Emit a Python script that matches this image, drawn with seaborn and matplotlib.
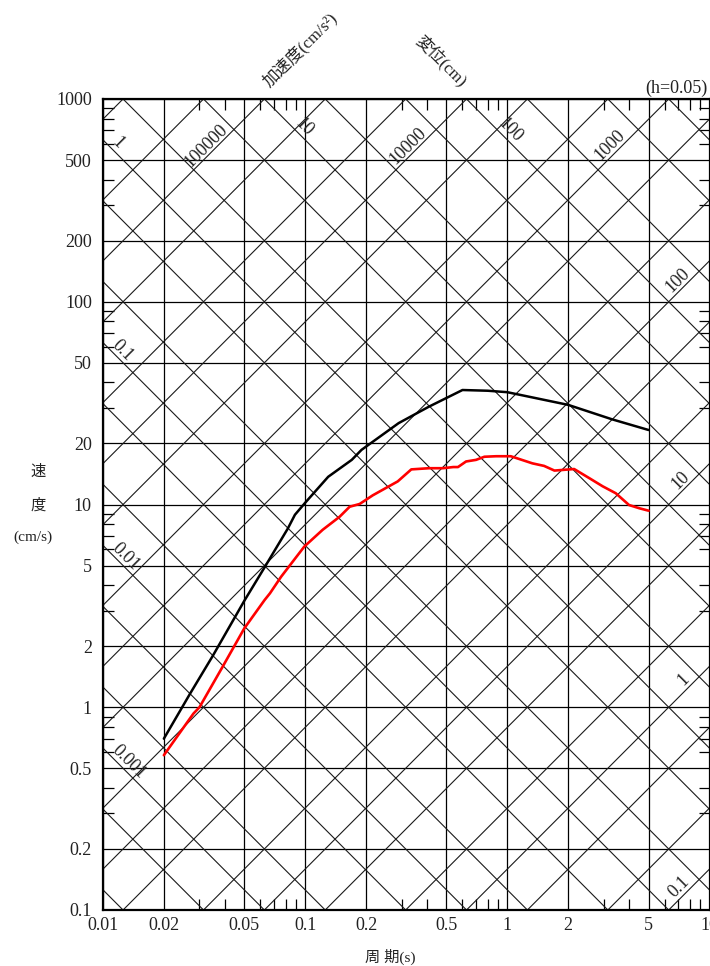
import matplotlib
matplotlib.use("Agg")
import matplotlib.pyplot as plt
from matplotlib.ticker import LogLocator, NullFormatter
import seaborn as sns
import numpy as np
import pandas as pd

# === DATI ===
# spettro di progetto (nero)
t_nero = [0.02, 0.027, 0.035, 0.05, 0.063, 0.082, 0.089, 0.1, 0.13, 0.17, 0.19,
          0.29, 0.41, 0.6, 0.8, 1.0, 2.0, 3.3, 5.0]
v_nero = [0.70, 1.17, 1.8, 3.35, 4.9, 7.6, 8.9, 10.2, 13.7, 16.6, 18.6,
          25.2, 30.4, 36.7, 36.4, 35.8, 31.0, 26.3, 23.3]

# spettro registrato (rosso)
t_rosso = [0.02, 0.028, 0.030, 0.039, 0.050, 0.063, 0.067, 0.076, 0.099, 0.122,
           0.148, 0.166, 0.186, 0.216, 0.256, 0.287, 0.335, 0.41, 0.48, 0.54,
           0.57, 0.625, 0.70, 0.77, 0.88, 1.04, 1.33, 1.52, 1.71, 2.14, 2.54,
           2.96, 3.44, 4.0, 4.5, 5.0]
v_rosso = [0.58, 0.93, 1.0, 1.58, 2.45, 3.38, 3.65, 4.4, 6.2, 7.5,
           8.7, 9.75, 10.06, 11.1, 12.2, 13.0, 14.9, 15.1, 15.1, 15.3,
           15.3, 16.3, 16.6, 17.2, 17.3, 17.3, 15.96, 15.5, 14.7, 14.96, 13.5,
           12.3, 11.36, 9.94, 9.58, 9.32]

x_ticks = [0.01, 0.02, 0.05, 0.1, 0.2, 0.5, 1, 2, 5, 10]
x_labels = ["0.01", "0.02", "0.05", "0.1", "0.2", "0.5", "1", "2", "5", "10"]
y_ticks = [0.1, 0.2, 0.5, 1, 2, 5, 10, 20, 50, 100, 200, 500, 1000]
y_labels = ["0.1", "0.2", "0.5", "1", "2", "5", "10", "20", "50", "100", "200", "500", "1000"]

# etichette delle rette diagonali
spost_sx = [1, 0.1, 0.01, 0.001]      # spostamento (cm), bordo sinistro
spost_alto = [10, 100]                # spostamento (cm), bordo superiore
acc_alto = [100000, 10000, 1000]      # accelerazione (cm/s2), in alto
acc_dx = [100, 10, 1, 0.1]            # accelerazione (cm/s2), bordo destro

# === STILE ===
sns.set_style("white")
plt.rcParams['font.family'] = ['Liberation Serif', 'Noto Sans CJK JP']
plt.rcParams['axes.unicode_minus'] = False

W, H = 710, 966
fig = plt.figure(figsize=(W / 100, H / 100), dpi=100)
ax = fig.add_axes([103 / W, 56 / H, 606.5 / W, 811 / H])
ax.set_xscale('log')
ax.set_yscale('log')
ax.set_xlim(0.01, 10)
ax.set_ylim(0.1, 1000)

# rette di spostamento e accelerazione costante (1, 2, 5 x 10^n)
T = np.logspace(-2, 1, 60)
for e in range(-4, 4):
    for m in (1, 2, 5):
        D = m * 10.0 ** e
        ax.plot(T, 2 * np.pi * D / T, color='#1a1a1a', lw=0.8, zorder=1)
for e in range(-2, 6):
    for m in (1, 2, 5):
        A = m * 10.0 ** e
        ax.plot(T, A * T / (2 * np.pi), color='#1a1a1a', lw=0.8, zorder=1)

ax.grid(True, which='major', color='black', lw=0.9, zorder=1)

# curve
df_nero = pd.DataFrame({'T': t_nero, 'V': v_nero})
df_rosso = pd.DataFrame({'T': t_rosso, 'V': v_rosso})
sns.lineplot(data=df_nero, x='T', y='V', ax=ax, color='black', lw=1.8,
             estimator=None, sort=False, zorder=3)
sns.lineplot(data=df_rosso, x='T', y='V', ax=ax, color='#ff0000', lw=1.9,
             estimator=None, sort=False, zorder=3)

# assi
ax.set_xticks(x_ticks, x_labels)
ax.set_yticks(y_ticks, y_labels)
ax.xaxis.set_minor_locator(LogLocator(base=10, subs=np.arange(2, 10)))
ax.yaxis.set_minor_locator(LogLocator(base=10, subs=np.arange(2, 10)))
ax.xaxis.set_minor_formatter(NullFormatter())
ax.yaxis.set_minor_formatter(NullFormatter())
ax.tick_params(which='major', length=0, labelsize=13, colors='#222222')
ax.tick_params(axis='y', which='major', pad=8)
ax.tick_params(axis='x', which='major', pad=5)
ax.tick_params(which='minor', direction='in', length=8, width=0.9,
               top=True, right=True, bottom=True, left=True, color='black')
ax.set_xlabel('')
ax.set_ylabel('')
for s in ax.spines.values():
    s.set_linewidth(1.6)
    s.set_color('black')

# etichette rette
fs = 13
for D in spost_sx:
    t0 = 0.0107
    ax.text(t0, 2 * np.pi * D / t0, f"{D:g}", rotation=-45, rotation_mode='anchor',
            ha='left', va='bottom', fontsize=fs, color='#222222', zorder=4)
for D in spost_alto:
    t0 = 1.37 * 2 * np.pi * D / 1000
    ax.text(t0, 2 * np.pi * D / t0, f"{D:g}", rotation=-45, rotation_mode='anchor',
            ha='left', va='bottom', fontsize=fs, color='#222222', zorder=4)
for A in acc_alto:
    v0 = 550
    ax.text(2 * np.pi * v0 / A, v0, f"{A:g}", rotation=45, rotation_mode='anchor',
            ha='center', va='bottom', fontsize=fs, color='#222222', zorder=4)
for A in acc_dx:
    t0 = 8.3
    ax.text(t0, A * t0 / (2 * np.pi), f"{A:g}", rotation=45, rotation_mode='anchor',
            ha='right', va='bottom', fontsize=fs, color='#222222', zorder=4)

# testi esterni
def ftext(x, y, s, **kw):
    fig.text(x / W, 1 - y / H, s, ha='center', va='center', color='#222222', **kw)

ftext(300, 50, "加速度(cm/s²)", rotation=45, fontsize=12)
ftext(441, 61, "変位(cm)", rotation=-45, fontsize=12)
ftext(676, 88, "(h=0.05)", fontsize=13)
ftext(38, 472, "速", fontsize=11)
ftext(38, 505, "度", fontsize=11)
ftext(33, 537, "(cm/s)", fontsize=11)
ftext(390, 957, "周 期(s)", fontsize=11)

fig.savefig("out.png", dpi=100)
